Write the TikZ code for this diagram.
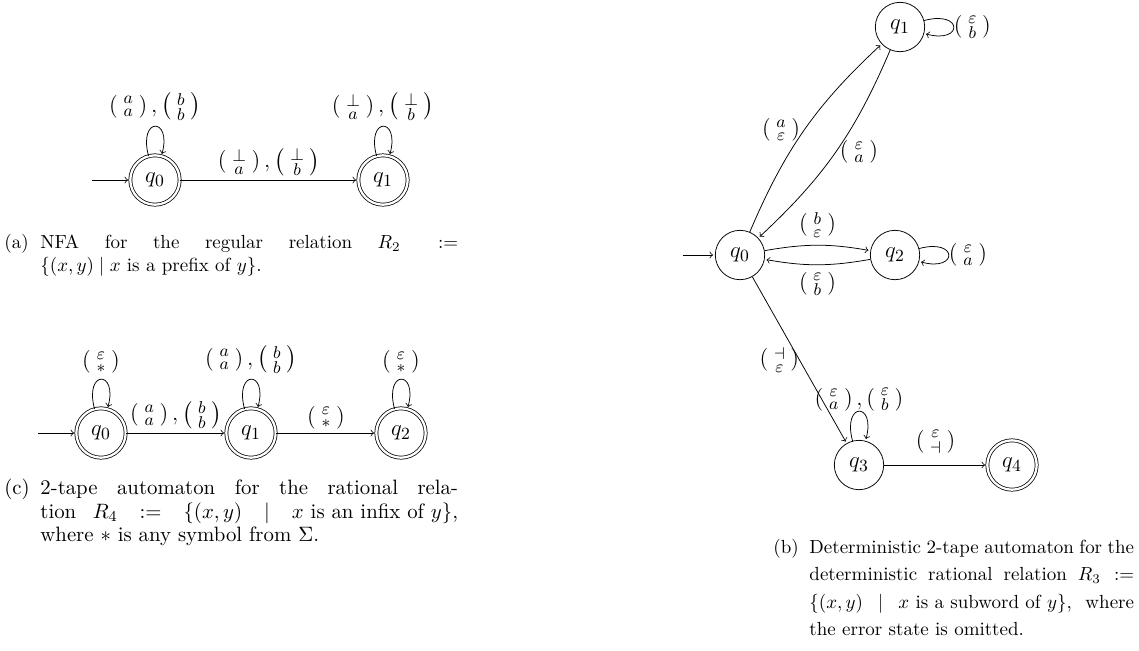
\documentclass[tikz,border=0pt]{standalone}
\usepackage{amsmath}
\usepackage{tikz}
\usetikzlibrary{positioning}
\newcommand{\pr}[2]{\left(\mkern1.5mu\begin{smallmatrix}#1\\#2\end{smallmatrix}\mkern1.5mu\right)}
\newcommand{\capbox}[5]{\fontsize{#3}{#4}\selectfont\makebox[19pt][l]{(#1)}%
  \parbox[t]{#2}{\fontsize{#3}{#4}\selectfont #5}}
\tikzset{
  st/.style={circle, draw, minimum size=26pt, inner sep=0pt, font=\fontsize{12.5}{15}\selectfont},
  acc/.style={st, double, double distance=1.2pt},
  arr/.style={->, shorten >=1pt},
  lbl/.style={inner sep=2pt, font=\fontsize{12.5}{15}\selectfont},
  llbl/.style={lbl, inner sep=3pt},
  capt/.style={anchor=north west, inner sep=0pt}
}
\begin{document}
\begin{tikzpicture}[x=0.5268pt, y=0.5268pt]
  \useasboundingbox (0,0) rectangle (1139,-650);
  % (a) prefix relation
  \node[acc] (a0) at (155,-180) {$q_0$};
  \node[acc] (a1) at (383,-180) {$q_1$};
  \coordinate[left=0.7cm of a0] (a0in);
  \draw[arr] (a0in)--(a0);
  \draw[arr] (a0) to[loop above] node[llbl, above] {$\pr{a}{a}, \pr{b}{b}$} (a0);
  \draw[arr] (a0)-- node[lbl, above] {$\pr{\bot}{a}, \pr{\bot}{b}$} (a1);
  \draw[arr] (a1) to[loop above] node[llbl, above] {$\pr{\bot}{a}, \pr{\bot}{b}$} (a1);
  \node[capt] (capA) at (4,-234) {\capbox{a}{220pt}{10}{12}{%
    NFA for the regular relation $R_2 :=$\linebreak
    $\{(x,y) \mid x \text{ is a prefix of } y\}$.}};

  % (c) infix relation
  \node[acc] (c0) at (101,-433) {$q_0$};
  \node[acc] (c1) at (251,-433) {$q_1$};
  \node[acc] (c2) at (401,-433) {$q_2$};
  \coordinate[left=0.7cm of c0] (c0in);
  \draw[arr] (c0in)--(c0);
  \draw[arr] (c0) to[loop above] node[llbl, above] {$\pr{\varepsilon}{\ast}$} (c0);
  \draw[arr] (c1) to[loop above] node[llbl, above] {$\pr{a}{a}, \pr{b}{b}$} (c1);
  \draw[arr] (c2) to[loop above] node[llbl, above] {$\pr{\varepsilon}{\ast}$} (c2);
  \draw[arr] (c0)-- node[lbl, above] {$\pr{a}{a}, \pr{b}{b}$} (c1);
  \draw[arr] (c1)-- node[lbl, above] {$\pr{\varepsilon}{\ast}$} (c2);
  \node[capt] (capC) at (4,-479) {\capbox{c}{220pt}{10.95}{12.3}{%
    2-tape automaton for the rational rela-\linebreak
    tion $R_4 := \{(x,y) \mid x \text{ is an infix of } y\}$,\linebreak
    where $*$ is any symbol from $\Sigma$.}};

  % (b) subword relation
  \node[st] (b0) at (740,-255) {$q_0$};
  \node[st] (b1) at (900,-27) {$q_1$};
  \node[st] (b2) at (895,-255) {$q_2$};
  \node[st] (b3) at (859,-465) {$q_3$};
  \node[acc] (b4) at (1012,-465) {$q_4$};
  \coordinate[left=0.6cm of b0] (b0in);
  \draw[arr] (b0in)--(b0);
  \draw[arr] (b0) to[bend left=12] node[lbl, left] {$\pr{a}{\varepsilon}$} (b1);
  \draw[arr] (b1) to[bend left=12] node[lbl, right] {$\pr{\varepsilon}{a}$} (b0);
  \draw[arr] (b1) to[loop right] node[lbl, right, inner sep=0pt] {$\pr{\varepsilon}{b}$} (b1);
  \draw[arr] (b0) to[bend left=10] node[lbl, above, inner sep=4pt] {$\pr{b}{\varepsilon}$} (b2);
  \draw[arr] (b2) to[bend left=10] node[lbl, below, inner sep=4pt] {$\pr{\varepsilon}{b}$} (b0);
  \draw[arr] (b2) to[loop right] node[lbl, right, inner sep=0pt] {$\pr{\varepsilon}{a}$} (b2);
  \draw[arr] (b0)-- node[lbl, left, inner sep=0pt] {$\pr{\dashv}{\varepsilon}$} (b3);
  \draw[arr] (b3) to[loop above] node[lbl, above, inner sep=0pt] {$\pr{\varepsilon}{a}, \pr{\varepsilon}{b}$} (b3);
  \draw[arr] (b3)-- node[lbl, above, inner sep=6pt] {$\pr{\varepsilon}{\dashv}$} (b4);
  \node[capt] (capB) at (773,-539) {\capbox{b}{171pt}{10}{14.4}{%
    Deterministic 2-tape automaton for the\linebreak
    deterministic rational relation $R_3 :=$\linebreak
    $\{(x,y) \mid x \text{ is a subword of } y\}$, where\linebreak
    the error state is omitted.}};
\end{tikzpicture}
\end{document}
